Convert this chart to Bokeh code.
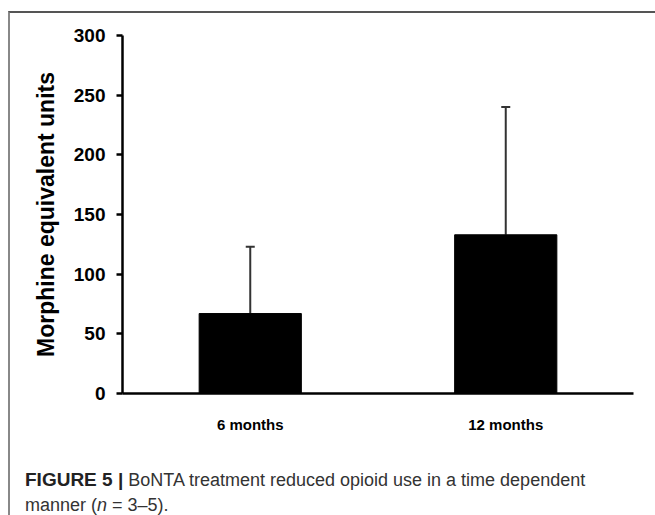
from bokeh.plotting import figure
from bokeh.layouts import column
from bokeh.models import ColumnDataSource, Whisker, TeeHead, Div, FactorRange, Range1d, FixedTicker
from bokeh.embed import file_html
from bokeh.resources import INLINE

# ---- data ----
categories = ["6 months", "12 months"]
means = [67, 133]
errors = [56, 107]
y_ticks = [0, 50, 100, 150, 200, 250, 300]

upper = [m + e for m, e in zip(means, errors)]
src = ColumnDataSource(dict(cat=categories, mean=means, upper=upper))

FONT = "Liberation Sans"
W, H = 655, 515
OFF_X, OFF_Y, BW = 8, 11, 2          # position and width of the panel frame lines
IW = W - OFF_X - BW                   # inner width
CH = 445 - OFF_Y - BW                 # chart height
CAPH = H - 445                        # caption height

p = figure(width=IW, height=CH, x_range=FactorRange(*categories), y_range=Range1d(0, 300),
           output_backend="svg", toolbar_location=None,
           min_border_left=122 - OFF_X - BW, min_border_right=22,
           min_border_top=35 - OFF_Y - BW, min_border_bottom=445 - 393)
p.outline_line_color = None
p.xgrid.grid_line_color = None
p.ygrid.grid_line_color = None

p.vbar(x="cat", top="mean", width=0.4, source=src, fill_color="black", line_color="black")

wh = Whisker(base="cat", upper="upper", lower="mean", source=src,
             line_color="#333333", line_width=2,
             upper_head=TeeHead(size=9, line_color="#333333", line_width=2), lower_head=None)
p.add_layout(wh)

ya = p.yaxis[0]
ya.ticker = FixedTicker(ticks=y_ticks)
ya.axis_line_width = 2.5
ya.axis_line_color = "black"
ya.major_tick_line_width = 2.5
ya.major_tick_out = 6
ya.major_tick_in = 0
ya.minor_tick_line_color = None
ya.major_label_text_font = FONT
ya.major_label_text_font_style = "bold"
ya.major_label_text_font_size = "19px"
ya.major_label_text_color = "black"
ya.major_label_standoff = 11
ya.axis_label = "Morphine equivalent units"
ya.axis_label_text_font = FONT
ya.axis_label_text_font_style = "bold"
ya.axis_label_text_font_size = "23px"
ya.axis_label_text_color = "black"
ya.axis_label_standoff = 12

xa = p.xaxis[0]
xa.axis_line_width = 2.5
xa.axis_line_color = "black"
xa.major_tick_line_color = None
xa.minor_tick_line_color = None
xa.major_label_text_font = FONT
xa.major_label_text_font_style = "bold"
xa.major_label_text_font_size = "15px"
xa.major_label_text_color = "black"
xa.major_label_standoff = 16

# ---- caption ----
caption_bold = "FIGURE 5 |"
caption_line1 = "BoNTA treatment reduced opioid use in a time dependent"
caption_line2 = 'manner (<i>n</i> = 3–5).'
cap_html = (f'<div style="font-family:\'{FONT}\',sans-serif;font-size:18px;color:#333333;'
            f'line-height:25px;padding:22px 0 0 {25 - OFF_X - BW}px;white-space:nowrap;">'
            f'<b style="color:#222222;font-size:19px;">{caption_bold}</b> {caption_line1}<br>{caption_line2}</div>')
c = Div(text=cap_html, width=IW, height=CAPH, margin=0)

layout = column(p, c, spacing=0, margin=(OFF_Y, 0, 0, OFF_X),
                styles={"border-top": f"{BW}px solid #555555", "border-left": f"{BW}px solid #888888",
                        "box-sizing": "content-box"})

open("out.html", "w").write(file_html(layout, INLINE))
